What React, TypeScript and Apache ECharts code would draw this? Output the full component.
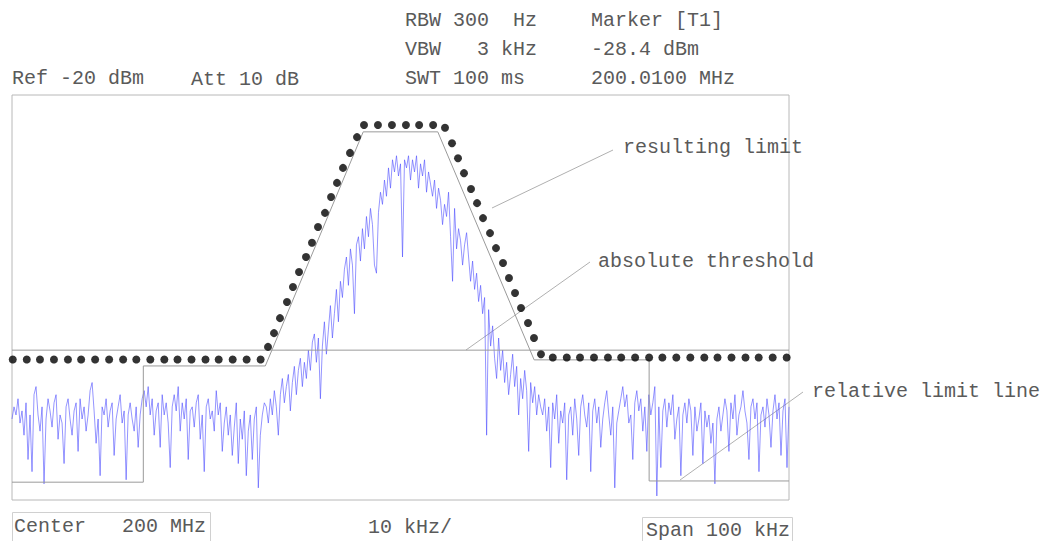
import React, { useEffect, useRef } from "react";
import * as echarts from "echarts";

// Frequency offset from center (kHz) and level (dBm)
const FREQ_MIN = -50;
const FREQ_MAX = 50;
const LEVEL_MIN = -120;
const LEVEL_MAX = -20;

// Measured trace (dBm), evenly spaced sweep points across the span
const traceDbm = [
  // left noise floor
  -100, -97, -99, -95, -101, -98, -104, -96, -110, -99,
  -113, -94, -92, -99, -103, -97, -116, -100, -95, -98,
  -102, -96, -94, -105, -99, -101, -111, -97, -95, -100,
  -104, -98, -96, -108, -95, -100, -97, -103, -99, -93,
  -91, -98, -106, -100, -114, -97, -99, -95, -102, -98,
  -96, -109, -100, -97, -94, -101, -98, -115, -99, -96,
  -100, -103, -97, -107, -99, -95,
  -93, -97, -92, -99, -95, -104, -98, -96, -107, -94,
  -99, -96, -101, -112, -97, -94, -98, -92, -103, -96,
  -100, -95, -110, -98, -97, -102, -96, -94, -105, -99,
  -113, -97, -95, -100, -98, -103, -93, -99, -96, -108,
  -101, -97, -104, -99, -109, -102, -96, -111, -100, -105,
  -98, -114, -103, -99, -110, -100, -97, -117, -104, -99, -96,
  // rising skirt
  -97, -101, -95, -99, -93, -97, -104, -94, -90, -96,
  -92, -89, -98, -91, -87, -94, -88, -85, -92, -86,
  -90, -83, -88, -81, -79, -86, -80, -95, -82, -76,
  -84, -78, -72, -80, -74, -68, -76, -66,
  -70, -63, -60, -67, -58, -62, -74, -57, -55, -61,
  -53, -58, -50, -55, -48, -52, -62, -64, -49, -44,
  -47, -41, -45, -38, -43, -36, -39, -35, -40, -37,
  // top
  -60, -36, -38, -35, -41, -36, -39, -35, -43, -37, -40, -36, -44, -39, -42,
  // falling skirt
  -45, -41, -48, -43, -46, -52, -47, -50, -44, -55,
  -66, -48, -58, -53, -56, -62, -57, -54, -60, -66,
  -61, -68, -64, -71, -67, -74, -70, -104, -73, -82,
  -77, -85, -90, -80, -88, -83, -91, -86, -94, -89,
  -84, -92, -87, -99, -90, -95, -88, -93, -108, -91,
  -96, -92, -99, -94, -97,
  // right noise floor
  -99, -95, -103, -97, -112, -96, -100, -94, -106, -98,
  -101, -96, -115, -99, -97, -104, -95, -100, -109, -97,
  -94, -99, -102, -96, -113, -98, -95, -101, -97, -107,
  -100, -96, -93, -99, -104, -97, -117, -101, -98, -95,
  -92, -97, -94, -101, -99, -110, -96, -93, -98, -95,
  -103, -97, -108, -94, -99, -96, -92, -119, -97, -112,
  -98, -95, -102, -96, -99, -94, -105, -100, -97, -114,
  -99, -96, -101, -95, -98, -109, -97, -103, -100, -96,
  -111, -98, -102, -99, -106, -101, -116, -100, -97, -103,
  -99, -95, -98, -108, -96, -100, -94, -104, -99, -97,
  -93, -98, -101, -110, -97, -95, -100, -96, -113, -99,
  -97, -102, -95, -99, -107, -98, -94, -100, -96, -109,
  -98, -95, -112, -97,
];

// Relative limit line vertices
const relLimitFreq = [-50, -33.1, -33.1, -17.4, -4.8, 4.8, 17.2, 32.0, 32.0, 50];
const relLimitDbm = [-115.6, -115.6, -86.9, -86.9, -29.1, -29.1, -85.4, -85.4, -115.3, -115.3];

// Absolute threshold
const absThresholdDbm = -83.0;

// Resulting limit (dotted points)
const resultFreq = [
  -49.9, -48.1, -46.4, -44.6, -42.8, -41.1, -39.3, -37.5, -35.7, -34.0,
  -32.2, -30.4, -28.7, -26.9, -25.1, -23.4, -21.6, -19.8, -18.0,
  -17.05, -16.28, -15.51, -14.61, -13.84, -13.06, -12.16, -11.39, -10.62, -9.72,
  -8.94, -8.17, -7.4, -6.5, -5.6,
  -4.7, -2.9, -1.1, 0.7, 2.4, 4.2,
  5.73, 6.63, 7.4, 8.17, 9.07, 9.85, 10.62, 11.52, 12.29, 13.19,
  13.96, 14.74, 15.51, 16.41, 17.18, 18.08,
  19.6, 21.4, 23.1, 24.9, 26.7, 28.4, 30.2, 32.0, 33.7, 35.5,
  37.3, 39.1, 40.8, 42.6, 44.4, 46.1, 47.9, 49.7,
];
const resultDbm = [
  -85.3, -85.3, -85.3, -85.3, -85.3, -85.3, -85.3, -85.3, -85.3, -85.3,
  -85.3, -85.3, -85.3, -85.3, -85.3, -85.3, -85.3, -85.3, -85.3,
  -82.2, -78.8, -75.1, -71.1, -67.4, -63.7, -60.0, -56.5, -52.6, -49.1,
  -45.2, -41.7, -38.0, -34.3, -30.4,
  -27.4, -27.4, -27.4, -27.4, -27.4, -27.4,
  -28.1, -31.9, -35.6, -39.3, -43.2, -46.7, -50.4, -54.1, -57.8, -61.5,
  -65.2, -68.9, -72.6, -76.3, -80.0, -84.0,
  -84.8, -84.8, -84.8, -84.8, -84.8, -84.8, -84.8, -84.8, -84.8, -84.8,
  -84.8, -84.8, -84.8, -84.8, -84.8, -84.8, -84.8, -84.8,
];

const headerLeft = ["Ref -20 dBm", "Att 10 dB"];
const headerMid = ["RBW 300  Hz", "VBW   3 kHz", "SWT 100 ms"];
const headerRight = ["Marker [T1]", "-28.4 dBm", "200.0100 MHz"];
const footer = ["Center   200 MHz", "10 kHz/", "Span 100 kHz"];
const callouts = ["resulting limit", "absolute threshold", "relative limit line"];

const FONT = '20px "Liberation Mono", "DejaVu Sans Mono", monospace';
const TEXT_COLOR = "#5a5a5a";

function txt(text: string, x: number, y: number) {
  return {
    type: "text",
    x,
    y,
    style: { text, font: FONT, fill: TEXT_COLOR, verticalAlign: "middle", align: "left" },
    silent: true,
  };
}

function leader(x1: number, y1: number, x2: number, y2: number) {
  return {
    type: "line",
    shape: { x1, y1, x2, y2 },
    style: { stroke: "#b0b0b0", lineWidth: 1 },
    silent: true,
  };
}

export default function App() {
  const ref = useRef<HTMLDivElement>(null);

  useEffect(() => {
    if (!ref.current) return;
    const chart = echarts.init(ref.current, undefined, { renderer: "svg" });
    const n = traceDbm.length;
    const traceData = traceDbm.map((v, i) => [FREQ_MIN + (i * (FREQ_MAX - FREQ_MIN)) / (n - 1), v]);
    const relData = relLimitFreq.map((f, i) => [f, relLimitDbm[i]]);
    const absData = [
      [FREQ_MIN, absThresholdDbm],
      [FREQ_MAX, absThresholdDbm],
    ];
    const resData = resultFreq.map((f, i) => [f, resultDbm[i]]);

    chart.setOption({
      animation: false,
      backgroundColor: "#ffffff",
      grid: {
        left: 12,
        top: 95,
        width: 777,
        height: 405,
        show: true,
        borderColor: "#b8b8b8",
        borderWidth: 1,
        backgroundColor: "transparent",
      },
      xAxis: {
        type: "value",
        min: FREQ_MIN,
        max: FREQ_MAX,
        axisLine: { show: false },
        axisTick: { show: false },
        axisLabel: { show: false },
        splitLine: { show: false },
      },
      yAxis: {
        type: "value",
        min: LEVEL_MIN,
        max: LEVEL_MAX,
        axisLine: { show: false },
        axisTick: { show: false },
        axisLabel: { show: false },
        splitLine: { show: false },
      },
      series: [
        {
          name: "trace",
          type: "line",
          data: traceData,
          symbol: "none",
          lineStyle: { color: "#4f4fff", width: 1, opacity: 0.6 },
          z: 2,
        },
        {
          name: "relative limit line",
          type: "line",
          data: relData,
          symbol: "none",
          lineStyle: { color: "#9a9a9a", width: 1 },
          z: 3,
        },
        {
          name: "absolute threshold",
          type: "line",
          data: absData,
          symbol: "none",
          lineStyle: { color: "#9a9a9a", width: 1 },
          z: 3,
        },
        {
          name: "resulting limit",
          type: "scatter",
          data: resData,
          symbol: "circle",
          symbolSize: 8,
          itemStyle: { color: "#000000" },
          z: 4,
        },
      ],
      graphic: [
        txt(headerLeft[0], 12, 78),
        txt(headerLeft[1], 191, 79),
        txt(headerMid[0], 405, 20),
        txt(headerMid[1], 405, 49),
        txt(headerMid[2], 405, 78),
        txt(headerRight[0], 591, 20),
        txt(headerRight[1], 591, 49),
        txt(headerRight[2], 591, 78),
        txt(callouts[0], 623, 147),
        txt(callouts[1], 598, 261),
        txt(callouts[2], 812, 391),
        leader(492, 208, 613, 150),
        leader(466, 350, 590, 262),
        leader(680, 480, 803, 392),
        {
          type: "rect",
          shape: { x: 12.5, y: 512.5, width: 198, height: 34 },
          style: { fill: "none", stroke: "#d0d0d0", lineWidth: 1 },
          silent: true,
        },
        txt(footer[0], 14, 526),
        txt(footer[1], 368, 527),
        {
          type: "rect",
          shape: { x: 642.5, y: 517.5, width: 150, height: 30 },
          style: { fill: "none", stroke: "#d0d0d0", lineWidth: 1 },
          silent: true,
        },
        txt(footer[2], 646, 530),
      ],
    });
    return () => chart.dispose();
  }, []);

  return (
    <div
      ref={ref}
      style={{ position: "fixed", left: 0, top: 0, width: 1040, height: 541, background: "#fff" }}
    />
  );
}
